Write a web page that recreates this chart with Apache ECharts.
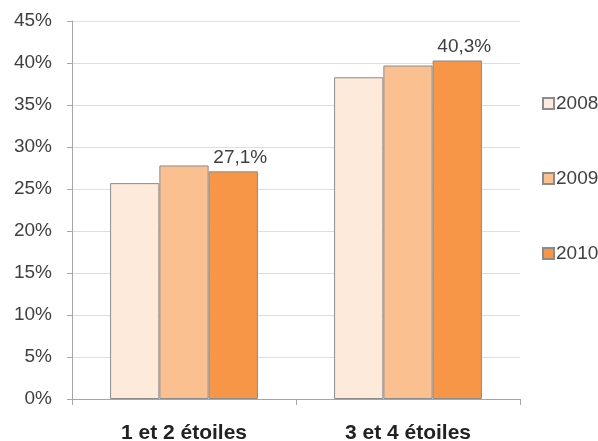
<!DOCTYPE html>
<html>
<head>
<meta charset="utf-8">
<script src="https://cdn.jsdelivr.net/npm/echarts@6/dist/echarts.min.js"></script>
<style>html,body{margin:0;padding:0;background:#fff;}#c{width:598px;height:441px;}</style>
</head>
<body>
<div id="c"></div>
<script>
var categories = ['1 et 2 étoiles', '3 et 4 étoiles'];
var years = ['2008', '2009', '2010'];
var values2008 = [25.7, 38.3];
var values2009 = [27.8, 39.7];
var values2010 = [27.1, 40.3];
var yTicks = [0, 5, 10, 15, 20, 25, 30, 35, 40, 45];
var colors = ['#FDEADA', '#FAC090', '#F79646'];

var font = 'Liberation Sans, Arial, sans-serif';
var textColor = '#404040';
var seriesData = [values2008, values2009, values2010];

var chart = echarts.init(document.getElementById('c'));
chart.setOption({
  animation: false,
  textStyle: { fontFamily: font },
  grid: { left: 72, right: 78, top: 21, bottom: 42, containLabel: false, outerBoundsMode: 'none' },
  legend: {
    orient: 'vertical',
    left: 537,
    top: 89,
    itemWidth: 11,
    itemHeight: 11,
    itemGap: 56,
    icon: 'rect',
    data: years,
    textStyle: { fontFamily: font, fontSize: 19, color: textColor, padding: [0, 0, 0, -3] }
  },
  xAxis: {
    type: 'category',
    data: categories,
    axisLine: { lineStyle: { color: '#a6a6a6', width: 1 } },
    axisTick: { show: true, length: 6, lineStyle: { color: '#a6a6a6' } },
    axisLabel: { fontFamily: font, fontSize: 21, fontWeight: 'bold', color: '#222', margin: 24 }
  },
  yAxis: {
    type: 'value',
    min: 0, max: 45, interval: 5,
    axisLine: { show: true, lineStyle: { color: '#a6a6a6', width: 1 } },
    axisTick: { show: true, length: 5, lineStyle: { color: '#a6a6a6' } },
    splitLine: { lineStyle: { color: '#dedede', width: 1 } },
    axisLabel: {
      fontFamily: font, fontSize: 19, color: textColor, margin: 20,
      formatter: function (v) { return yTicks.indexOf(v) >= 0 ? v + '%' : ''; }
    }
  },
  series: years.map(function (y, i) {
    return {
      name: y,
      type: 'bar',
      data: seriesData[i],
      barGap: '0%',
      barCategoryGap: '34%',
      itemStyle: { color: colors[i], borderColor: '#8c8c8c', borderWidth: 1 },
      label: i === 2 ? {
        show: true, position: 'top', distance: 4, offset: [7, 0],
        fontFamily: font, fontSize: 19, color: textColor,
        formatter: function (p) { return p.value.toFixed(1).replace('.', ',') + '%'; }
      } : { show: false }
    };
  })
});
</script>
</body>
</html>
